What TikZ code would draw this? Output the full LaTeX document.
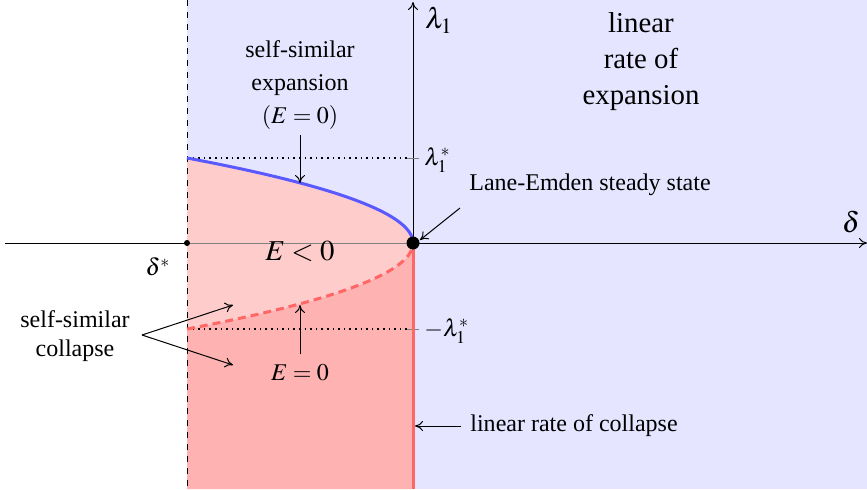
\documentclass[tikz,border=0pt]{standalone}
\usepackage{mathptmx}
\usepackage{fontspec}
\setmainfont{Liberation Serif}
\usetikzlibrary{arrows.meta}
\begin{document}
\begin{tikzpicture}[x=0.5pt,y=-0.5pt,
  lbl/.style={font=\fontsize{12}{14.4}\selectfont,inner sep=1pt,align=center},
  biglbl/.style={font=\fontsize{14.4}{17}\selectfont,inner sep=1pt,align=center},
  arr/.style={-{To[length=4pt,width=5pt]},line width=0.5pt},
  axis/.style={-{To[length=4pt,width=5pt]},line width=0.5pt},
  dotline/.style={line width=0.8pt,dotted},
  tick/.style={gray,line width=0.5pt}]
\useasboundingbox (0,0) rectangle (867,489);
% blue region
\fill[blue!10] (187,0) rectangle (867,489);
% dark pink region (below dashed curve)
\fill[red!30] (187,243) -- plot[domain=1:0,samples=40,variable=\t] ({413-226*(\t)^2},{243+86*\t}) -- (413,489) -- (187,489) -- cycle;
% light pink region
\fill[red!20] plot[domain=1:0,samples=40,variable=\t] ({413-226*(\t)^2},{243-85*\t}) -- plot[domain=0:1,samples=40,variable=\t] ({413-226*(\t)^2},{243+86*\t}) -- cycle;
% axes
\coordinate (xs) at (5,243);
\coordinate (xe) at (867,243);
\coordinate (ys) at (413,243);
\coordinate (ye) at (413,2);
\coordinate (ds) at (187,243);
\draw[line width=0.5pt] (xs) -- (ds);
\draw[gray,line width=0.5pt] (ds) -- (ys);
\draw[axis] (ys) -- (xe);
\draw[axis] (ys) -- (ye);
% dashed vertical
\coordinate (dt) at (187,0);
\coordinate (db) at (187,489);
\draw[dashed,line width=0.5pt] (dt) -- (db);
% dotted levels
\coordinate (l1a) at (187,158);
\coordinate (l1b) at (407,158);
\coordinate (l2a) at (187,329);
\coordinate (l2b) at (407,329);
\draw[dotline] (l1a) -- (l1b);
\draw[dotline] (l2a) -- (l2b);
\draw[tick] (407,158) -- (419,158);
\draw[tick] (407,329) -- (419,329);
% curves
\draw[blue!65,line width=1.5pt] plot[domain=1:0,samples=40,variable=\t] ({413-226*(\t)^2},{243-85*\t});
\draw[red!60,line width=1.5pt,dash pattern=on 4pt off 2.5pt] plot[domain=1:0,samples=40,variable=\t] ({413-226*(\t)^2},{243+86*\t});
\coordinate (rb) at (413,489);
\draw[red!60,line width=1.5pt] (ys) -- (rb);
% dots
\node[circle,fill=black,inner sep=0pt,minimum size=3pt] (dstar) at (187,243) {};
\node[circle,fill=black,inner sep=0pt,minimum size=6.5pt] (le) at (413,243) {};
% labels
\node[biglbl] (lam) at (439,20) {$\lambda_1$};
\node[biglbl] (del) at (851,222) {$\delta$};
\node[lbl] (dels) at (158,267) {$\delta^*$};
\node[lbl,anchor=west] (lstar) at (422,160) {$\lambda_1^*$};
\node[lbl,anchor=west] (mlstar) at (422,331) {$-\lambda_1^*$};
\node[biglbl,align=center] (linexp) at (641,62) {linear\\[1pt]rate of\\[1pt]expansion};
\node[lbl,align=center] (ssexp) at (300,85) {self-similar\\[2pt]expansion\\[2pt]$(E=0)$};
\node[biglbl] (eneg) at (300,251) {$E<0$};
\node[lbl] (ezero) at (300,373) {$E=0$};
\node[lbl,align=center] (sscol) at (75,336) {self-similar\\collapse};
\node[lbl] (lesteady) at (590,185) {Lane-Emden steady state};
\node[lbl,anchor=west] (lincol) at (468,426) {linear rate of collapse};
% arrows
\coordinate (a1s) at (300,135);
\coordinate (a1e) at (300,183);
\draw[arr] (a1s) -- (a1e);
\coordinate (a2s) at (460,208);
\coordinate (a2e) at (420,240);
\draw[arr] (a2s) -- (a2e);
\coordinate (a3s) at (300,354);
\coordinate (a3e) at (300,305);
\draw[arr] (a3s) -- (a3e);
\coordinate (a4s) at (142,335);
\coordinate (a4e) at (233,305);
\coordinate (a5e) at (233,365);
\draw[arr] (a4s) -- (a4e);
\draw[arr] (a4s) -- (a5e);
\coordinate (a6s) at (461,426);
\coordinate (a6e) at (415,426);
\draw[arr] (a6s) -- (a6e);
\end{tikzpicture}
\end{document}
